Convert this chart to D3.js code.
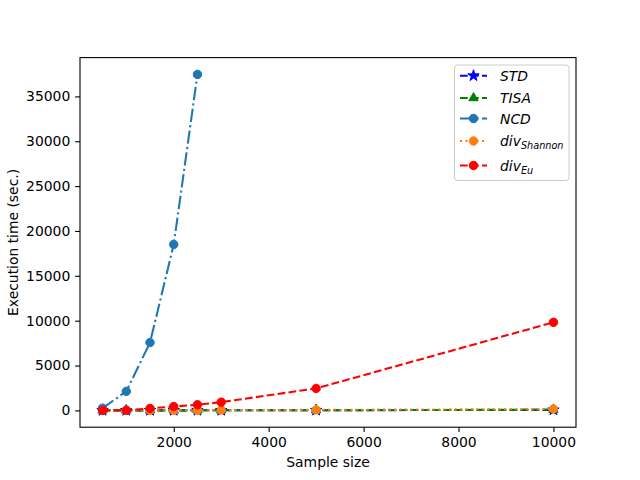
<!DOCTYPE html>
<html><head><meta charset="utf-8">
<script src="https://cdn.jsdelivr.net/npm/d3@7"></script>
<style>body{margin:0;background:#fff}svg{font-family:"DejaVu Sans",sans-serif}</style>
</head><body><svg id="c" width="640" height="480"></svg>
<script>
const sampleSizes = [500, 1000, 1500, 2000, 2500, 3000, 5000, 10000];
const ncdSizes = [500, 1000, 1500, 2000, 2500];
const stdValues = [1, 2, 3, 5, 7, 9, 20, 60];
const tisaValues = [1, 2, 4, 6, 8, 10, 25, 70];
const ncdValues = [250, 2120, 7560, 18500, 37450];
const shannonValues = [2, 5, 10, 15, 20, 30, 60, 150];
const euValues = [5, 15, 220, 430, 630, 920, 2450, 9820];
const xTicks = [2000, 4000, 6000, 8000, 10000];
const yTicks = [0, 5000, 10000, 15000, 20000, 25000, 30000, 35000];

const series = [
  {name:"STD", sub:null, xs:sampleSizes, ys:stdValues, color:"#0000ff", dash:"7.7,3.3", marker:"star"},
  {name:"TISA", sub:null, xs:sampleSizes, ys:tisaValues, color:"#008000", dash:"7.7,3.3", marker:"tri"},
  {name:"NCD", sub:null, xs:ncdSizes, ys:ncdValues, color:"#1f77b4", dash:"13.3,3.3,2.1,3.3", marker:"circle"},
  {name:"div", sub:"Shannon", xs:sampleSizes, ys:shannonValues, color:"#ff7f0e", dash:"2.1,3.4", marker:"circle"},
  {name:"div", sub:"Eu", xs:sampleSizes, ys:euValues, color:"#ff0000", dash:"7.7,3.3", marker:"circle"}
];

const svg = d3.select("#c");
const L=80, R=576, T=57.6, B=427.2;
const x = d3.scaleLinear().domain([25, 10475]).range([L, R]);
const yMin = 0, yMax = 37450, pad = (yMax-yMin)*0.05;
const y = d3.scaleLinear().domain([yMin-pad, yMax+pad]).range([B, T]);

svg.append("rect").attr("x",0).attr("y",0).attr("width",640).attr("height",480).attr("fill","#fff");

const clip = svg.append("defs").append("clipPath").attr("id","clp");
clip.append("rect").attr("x",L).attr("y",T).attr("width",R-L).attr("height",B-T);

const plot = svg.append("g");
const markerPath = (type) => {
  if (type==="star") return d3.symbol().type(d3.symbolStar).size(40)();
  if (type==="tri") return d3.symbol().type(d3.symbolTriangle).size(38)();
  return d3.symbol().type(d3.symbolCircle).size(56)();
};
series.forEach(s => {
  const pts = s.xs.map((v,i)=>[v, s.ys[i]]);
  const g = plot.append("g");
  g.append("path").datum(pts)
    .attr("d", d3.line().x(d=>x(d[0])).y(d=>y(d[1])))
    .attr("fill","none").attr("stroke",s.color).attr("stroke-width",2.08)
    .attr("stroke-dasharray",s.dash);
  g.selectAll("path.m").data(pts).enter().append("path").attr("class","m")
    .attr("d", markerPath(s.marker))
    .attr("transform", d=>`translate(${x(d[0])},${y(d[1])})`)
    .attr("fill", s.color).attr("stroke", s.color).attr("stroke-width",1);
});

// axes
const xa = svg.append("g").attr("transform",`translate(0,${B})`)
  .call(d3.axisBottom(x).tickValues(xTicks).tickSize(4.86).tickPadding(4.9).tickFormat(d3.format("d")));
const ya = svg.append("g").attr("transform",`translate(${L},0)`)
  .call(d3.axisLeft(y).tickValues(yTicks).tickSize(4.86).tickPadding(4.9).tickFormat(d3.format("d")));
[xa,ya].forEach(a=>{
  a.select(".domain").remove();
  a.selectAll("line").attr("stroke","#000").attr("stroke-width",1.1);
  a.selectAll("text").attr("font-size","13.9px").attr("fill","#000").attr("font-family","DejaVu Sans");
});
svg.append("rect").attr("x",L).attr("y",T).attr("width",R-L).attr("height",B-T)
  .attr("fill","none").attr("stroke","#000").attr("stroke-width",1.1);

svg.append("text").attr("x",(L+R)/2).attr("y",467).attr("text-anchor","middle")
  .attr("font-size","13.9px").text("Sample size");
svg.append("text").attr("transform",`translate(18,${(T+B)/2}) rotate(-90)`).attr("text-anchor","middle")
  .attr("font-size","13.9px").text("Execution time (sec.)");

// legend
const lg = svg.append("g");
lg.append("rect").attr("x",454.5).attr("y",65).attr("width",114.5).attr("height",115.5).attr("rx",3)
  .attr("fill","#fff").attr("fill-opacity",0.8).attr("stroke","#cccccc").attr("stroke-width",1);
const ly = [75.7, 98, 118.5, 141, 165.5];
series.forEach((s,i)=>{
  const yy = ly[i];
  lg.append("line").attr("x1",460).attr("x2",487).attr("y1",yy).attr("y2",yy)
    .attr("stroke",s.color).attr("stroke-width",2.08).attr("stroke-dasharray",s.dash);
  lg.append("path").attr("d",markerPath(s.marker)).attr("transform",`translate(473.5,${yy})`)
    .attr("fill",s.color).attr("stroke",s.color);
  const t = lg.append("text").attr("x",500).attr("y",yy+5).attr("font-size","13.9px").attr("font-style","italic");
  t.append("tspan").text(s.name);
  if (s.sub) t.append("tspan").attr("dy",3).attr("font-size","9.7px").text(s.sub);
});
</script></body></html>
